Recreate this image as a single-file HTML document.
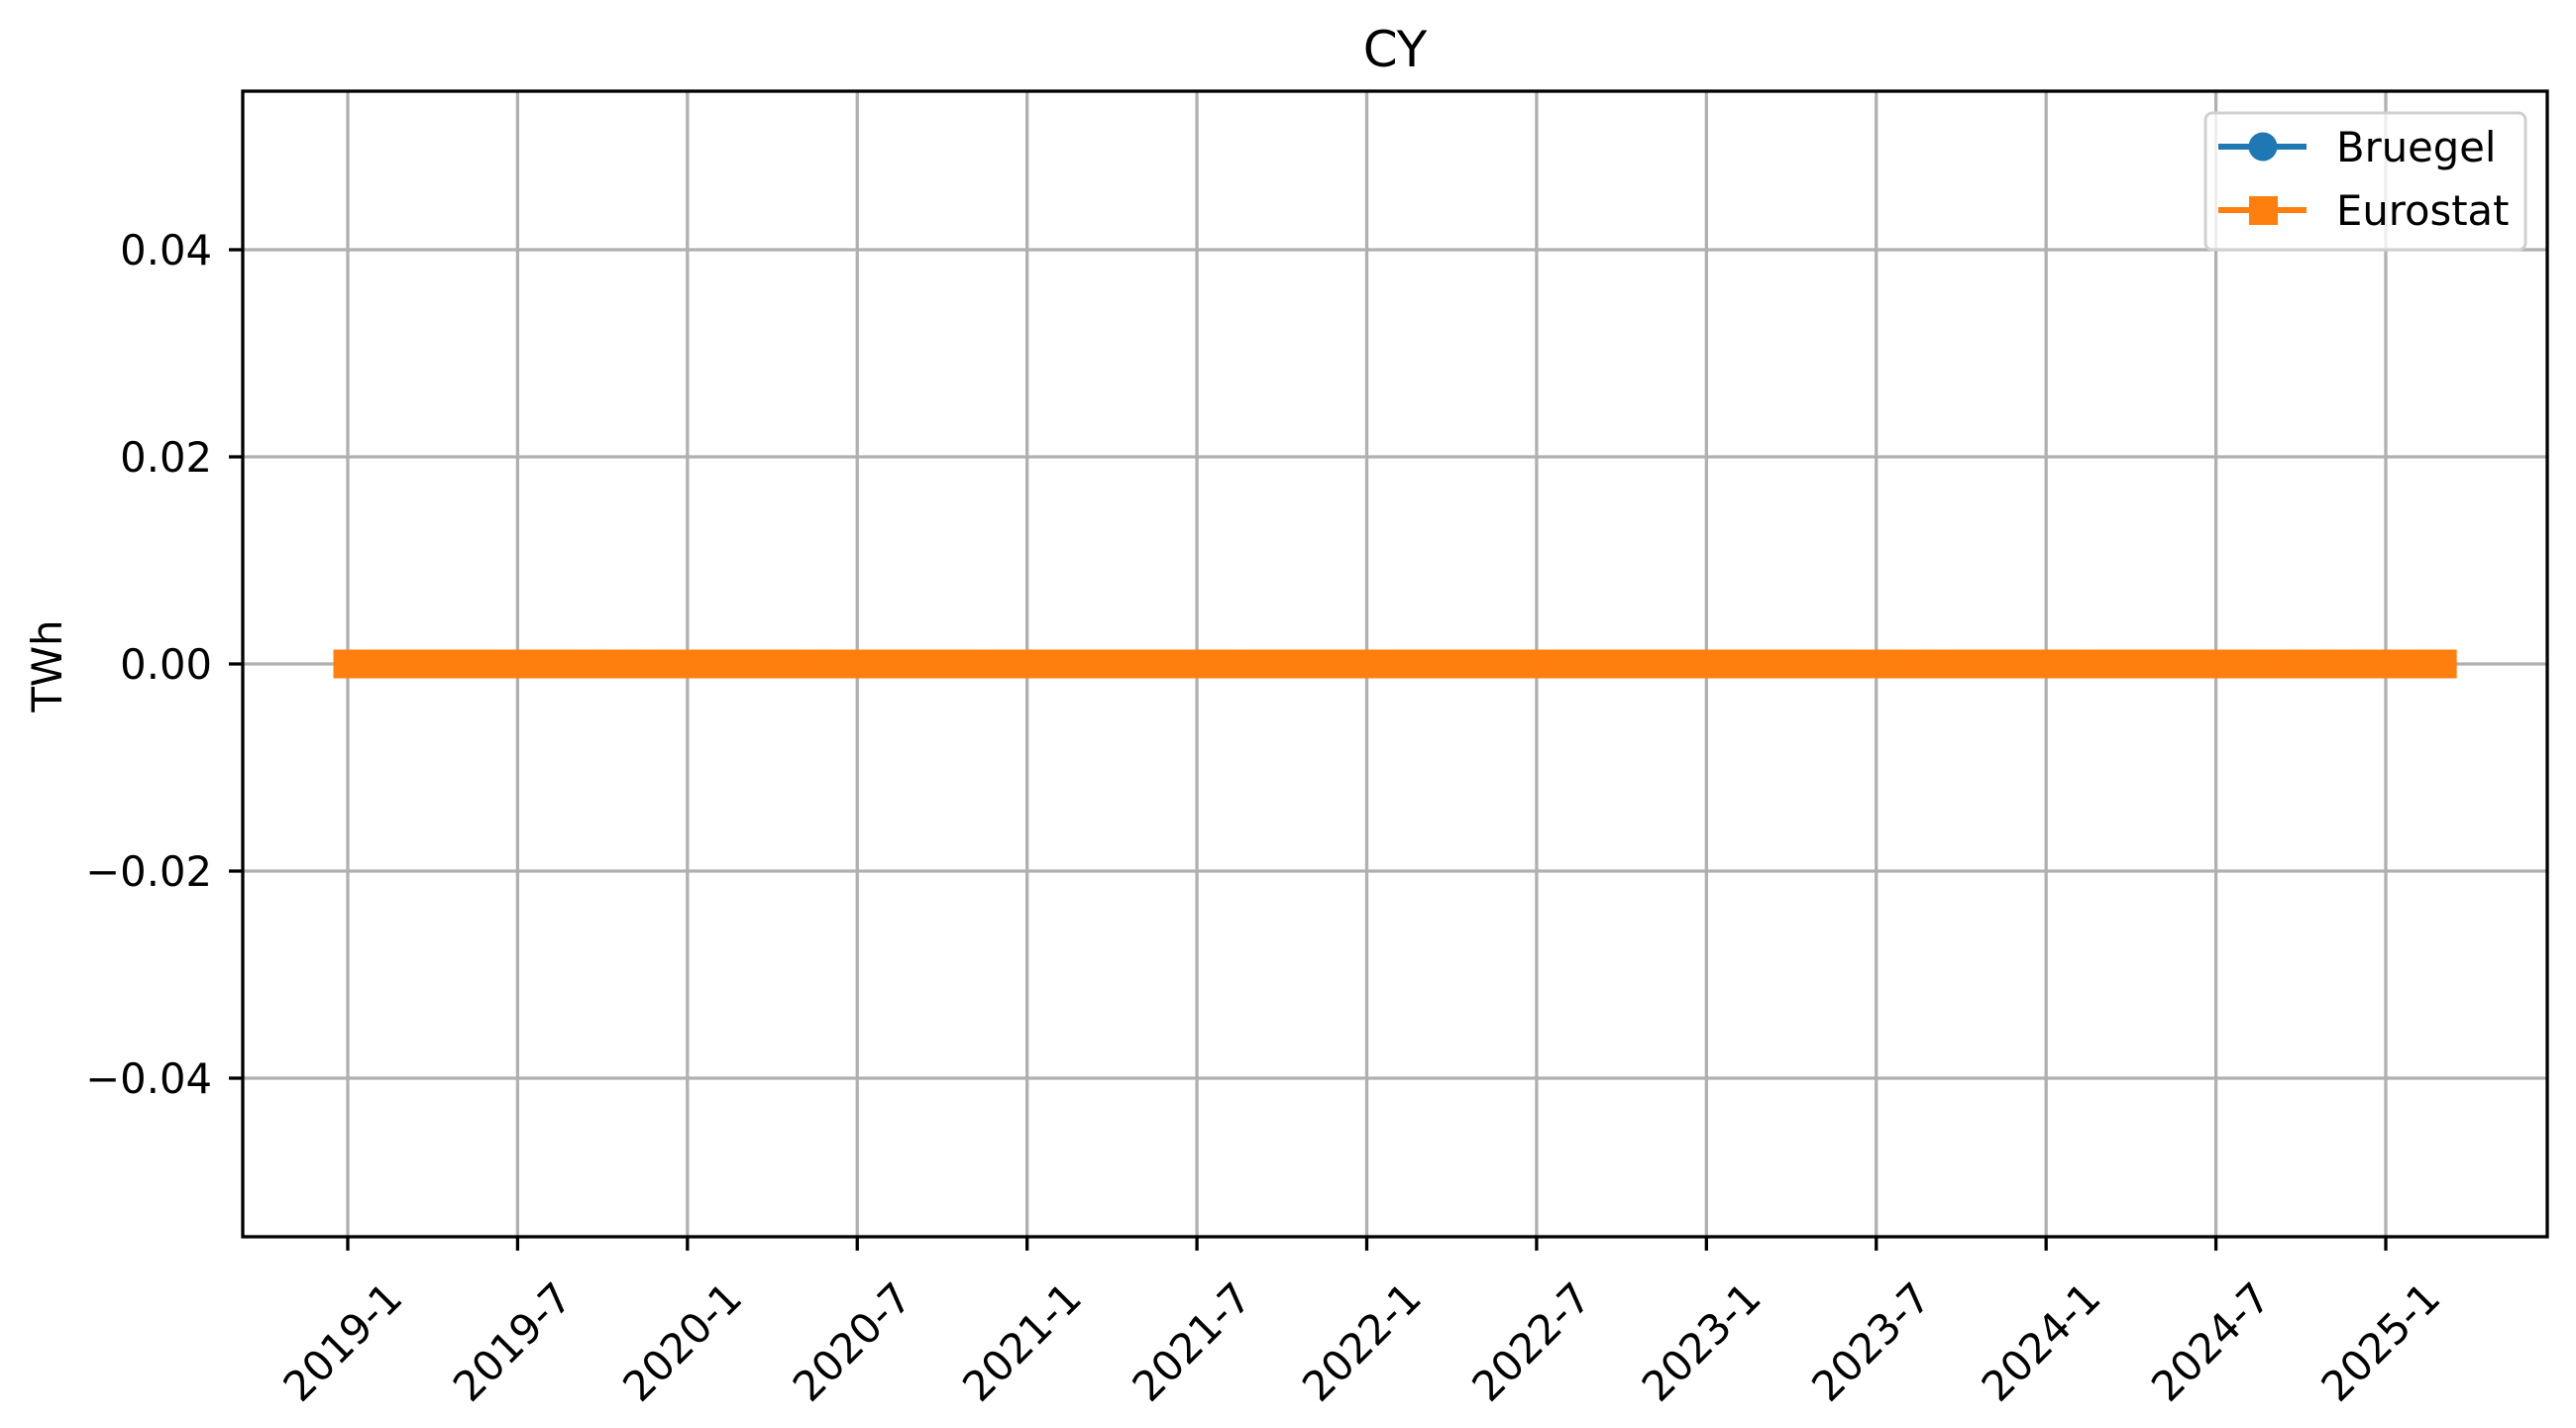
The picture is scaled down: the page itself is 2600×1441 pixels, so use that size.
<!DOCTYPE html>
<html><head><meta charset="utf-8"><style>
html,body{margin:0;padding:0;background:#fff;}
svg{display:block;font-family:"DejaVu Sans","Liberation Sans",sans-serif;}
</style></head><body>
<svg id="chart" width="2600" height="1441" viewBox="0 0 2600 1441" xmlns="http://www.w3.org/2000/svg">
<rect width="2600" height="1441" fill="#fff"/>
<text x="1408" y="67" font-size="50" text-anchor="middle">CY</text>
<text x="62" y="672" font-size="41.7" text-anchor="middle" transform="rotate(-90 62 672)">TWh</text>
<g id="grid"></g>
<g id="series"></g>
<rect x="245" y="92" width="2326" height="1156" fill="none" stroke="#000" stroke-width="3.3"/>
<g id="ticks"></g>
<g>
<rect x="2226" y="114" width="323" height="138" rx="7" fill="#fff" fill-opacity="0.8" stroke="#d0d0d0" stroke-width="3"/>
<g>
<line x1="2239" y1="148" x2="2328" y2="148" stroke="#1f77b4" stroke-width="6"/>
<circle cx="2284" cy="148" r="14.5" fill="#1f77b4"/>
<text x="2358" y="163" font-size="41.7">Bruegel</text>
</g>
<g>
<line x1="2239" y1="212" x2="2328" y2="212" stroke="#ff7f0e" stroke-width="6"/>
<rect x="2270" y="198" width="29" height="29" fill="#ff7f0e"/>
<text x="2358" y="227" font-size="41.7">Eurostat</text>
</g>
</g>
<script>
const yTicks = [-0.04, -0.02, 0.00, 0.02, 0.04];
const yTickLabels = ["\u22120.04", "\u22120.02", "0.00", "0.02", "0.04"];
const xTickMonths = [0, 6, 12, 18, 24, 30, 36, 42, 48, 54, 60, 66, 72];
const xTickLabels = ["2019-1","2019-7","2020-1","2020-7","2021-1","2021-7","2022-1","2022-7","2023-1","2023-7","2024-1","2024-7","2025-1"];
const months = Array.from({length: 75}, (_, i) => i); // 2019-01 .. 2025-03
const bruegelValues = [0,0,0,0,0,0,0,0,0,0,0,0,0,0,0,0,0,0,0,0,0,0,0,0,0,0,0,0,0,0,0,0,0,0,0,0,0,0,0,0,0,0,0,0,0,0,0,0,0,0,0,0,0,0,0,0,0,0,0,0,0,0,0,0,0,0,0,0,0,0,0,0,0,0,0];
const eurostatValues = [0,0,0,0,0,0,0,0,0,0,0,0,0,0,0,0,0,0,0,0,0,0,0,0,0,0,0,0,0,0,0,0,0,0,0,0,0,0,0,0,0,0,0,0,0,0,0,0,0,0,0,0,0,0,0,0,0,0,0,0,0,0,0,0,0,0,0,0,0,0,0,0,0,0,0];

const NS = "http://www.w3.org/2000/svg";
const L = 245, R = 2571, T = 92, B = 1248;
const xScale = m => 351 + (m / 72) * (2408 - 351);
const yScale = v => 670 - v * (418 / 0.04);
function mk(tag, attrs, parent) {
  const e = document.createElementNS(NS, tag);
  for (const k in attrs) e.setAttribute(k, attrs[k]);
  parent.appendChild(e);
  return e;
}
const grid = document.getElementById('grid');
const ticks = document.getElementById('ticks');
const series = document.getElementById('series');
xTickMonths.forEach((m, i) => {
  const x = xScale(m);
  const g = mk('line', {x1: x, y1: T, x2: x, y2: B, stroke: '#b0b0b0', 'stroke-width': 3.3}, grid);
  
  
  const t = mk('line', {x1: x, y1: B, x2: x, y2: B + 14, stroke: '#000', 'stroke-width': 3.3}, ticks);
  
  
  const ax = x + 47, ay = 1302;
  const lb = mk('text', {x: ax, y: ay, 'font-size': 41.7, 'text-anchor': 'end', 'dominant-baseline': 'central', transform: `rotate(-45 ${ax} ${ay})`}, ticks);
  lb.textContent = xTickLabels[i];
  
  
});
yTicks.forEach((v, i) => {
  const y = yScale(v);
  const g = mk('line', {x1: L, y1: y, x2: R, y2: y, stroke: '#b0b0b0', 'stroke-width': 3.3}, grid);
  
  
  const t = mk('line', {x1: L - 14, y1: y, x2: L, y2: y, stroke: '#000', 'stroke-width': 3.3}, ticks);
  
  
  const lb = mk('text', {x: 214, y: y + 15, 'font-size': 41.7, 'text-anchor': 'end'}, ticks);
  lb.textContent = yTickLabels[i];
  
  
});
function drawSeries(vals, color, marker, name) {
  const g = mk('g', {}, series);
  
  
  const pts = months.map((m, i) => xScale(m) + ',' + yScale(vals[i])).join(' ');
  const pl = mk('polyline', {points: pts, fill: 'none', stroke: color, 'stroke-width': 6}, g);
  
  
  months.forEach((m, i) => {
    const x = xScale(m), y = yScale(vals[i]);
    let e;
    if (marker === 'circle') e = mk('circle', {cx: x, cy: y, r: 14.5, fill: color}, g);
    else e = mk('rect', {x: x - 14.5, y: y - 14.5, width: 29, height: 29, fill: color}, g);
    
    
  });
}
drawSeries(bruegelValues, '#1f77b4', 'circle', 'bruegel-series');
drawSeries(eurostatValues, '#ff7f0e', 'square', 'eurostat-series');
</script>
</svg>
</body></html>
